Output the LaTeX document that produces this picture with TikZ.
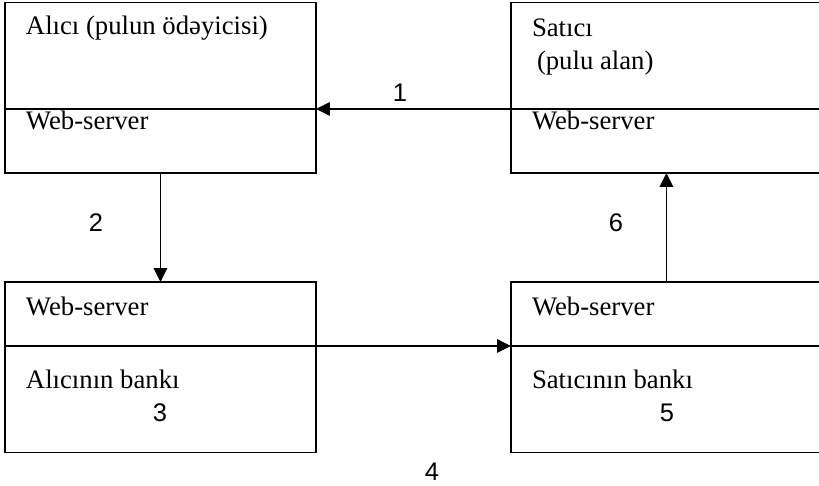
\documentclass[tikz,border=0pt]{standalone}
\usepackage{fontspec}
\setmainfont{Liberation Serif}
\newfontfamily\labelsans{Liberation Sans}
\usetikzlibrary{arrows.meta,positioning}
\newcommand{\boxfont}{\fontsize{15.2}{17}\selectfont}
\newcommand{\numfont}{\labelsans\fontsize{14.5}{16}\selectfont}
\tikzset{
 every node/.append style={inner sep=0pt,outer sep=0pt},
 part/.style={draw,line width=1pt,minimum width=6.22cm,anchor=north west},
 tall/.style={part,minimum height=2.13cm},
 short/.style={part,minimum height=1.28cm},
 txt/.style={font=\boxfont,anchor=base west},
 num/.style={font=\numfont,anchor=base},
 flow/.style={-{Triangle[length=2.8mm,width=2.7mm]},line width=1pt},
}
\begin{document}
\begin{tikzpicture}[x=0.02cm,y=-0.02cm]

\useasboundingbox (0,0) rectangle (819,486);
\node[tall] (buyer) at (5,2.5) {};
\node[short,below=0pt of buyer] (buyerweb) {};
\node[tall] (seller) at (511,2.5) {};
\node[short,below=0pt of seller] (sellerweb) {};
\node[short] (buyerbankweb) at (5,282) {};
\node[tall,below=0pt of buyerbankweb] (buyerbank) {};
\node[short] (sellerbankweb) at (511,282) {};
\node[tall,below=0pt of sellerbankweb] (sellerbank) {};
\node[txt] (buyername) at (26,35) {Alıcı (pulun ödəyicisi)};
\node[txt] (buyerws) at (26,130) {Web-server};
\node[txt] (sellername) at (532,37) {Satıcı};
\node[txt] (sellerrole) at (537,70) {(pulu alan)};
\node[txt] (sellerws) at (532,130) {Web-server};
\node[txt] (buyerbankws) at (26,316) {Web-server};
\node[txt] (buyerbankname) at (26,389) {Alıcının bankı};
\node[txt] (sellerbankws) at (532,316) {Web-server};
\node[txt] (sellerbankname) at (532,389) {Satıcının bankı};
\draw[flow] (seller.south west) -- (buyer.south east);
\draw[flow] (buyerweb.south) -- (buyerbankweb.north);
\draw[flow] (buyerbankweb.south east) -- (sellerbankweb.south west);
\draw[flow] (sellerbankweb.north) -- (sellerweb.south);
\node[num] (n1) at (400,102) {1};
\node[num] (n2) at (96,232) {2};
\node[num] (n3) at (160,422) {3};
\node[num] (n4) at (432,480) {4};
\node[num] (n5) at (667,422) {5};
\node[num] (n6) at (616,232) {6};
\end{tikzpicture}
\end{document}
